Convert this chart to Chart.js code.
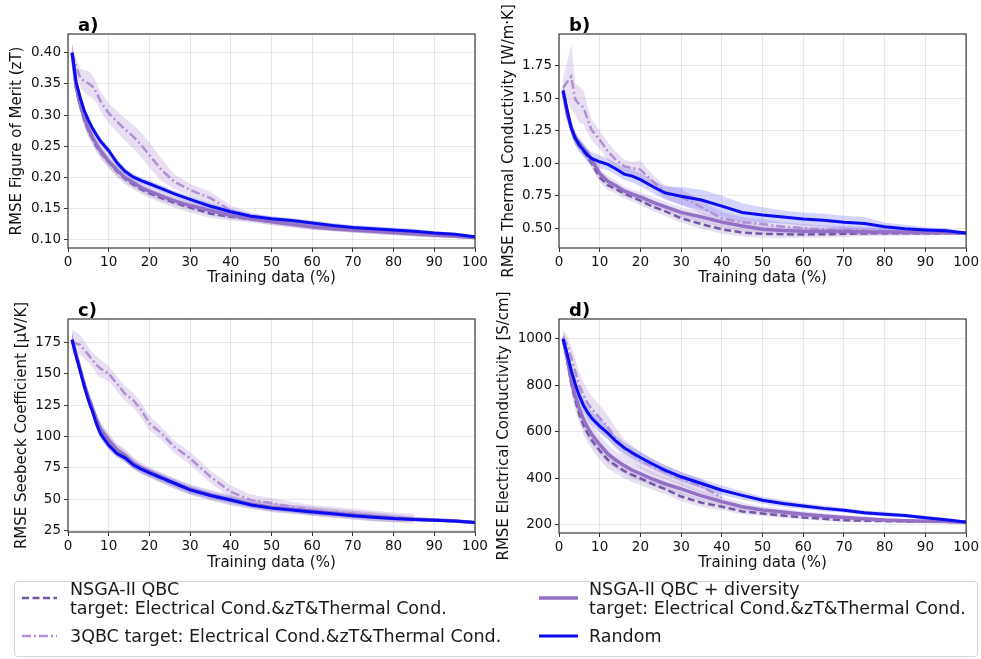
<!DOCTYPE html>
<html>
<head>
<meta charset="utf-8">
<script src="https://cdn.jsdelivr.net/npm/chart.js@4.4.1/dist/chart.umd.min.js"></script>
<style>
    body { margin: 0; width: 981px; height: 659px; background: #fff; position: relative; overflow: hidden; font-family: 'DejaVu Sans', sans-serif; }
    canvas.panel { position: absolute; }
    .legendBox { position: absolute; left: 14px; top: 581px; width: 962px; height: 74px; border: 1px solid #d4d4d4; border-radius: 4px; }
    .legText { position: absolute; font-size: 17.5px; line-height: 20px; color: #1a1a1a; white-space: nowrap; }
    .legLine { position: absolute; }
</style>
</head>
<body>
<canvas id="panelA" class="panel" width="490" height="290" style="left:0;top:0"></canvas>
<canvas id="panelB" class="panel" width="491" height="290" style="left:490px;top:0"></canvas>
<canvas id="panelC" class="panel" width="490" height="285" style="left:0;top:290px"></canvas>
<canvas id="panelD" class="panel" width="491" height="285" style="left:490px;top:290px"></canvas>

<div class="legendBox"></div>
<svg class="legLine" style="left:0;top:0" width="981" height="659">
    <line id="hNsga" x1="22" y1="598" x2="57" y2="598" stroke-width="2.5"/>
    <line id="h3qbc" x1="22" y1="636" x2="57" y2="636" stroke-width="2.5"/>
    <line id="hDiv" x1="539" y1="598" x2="578" y2="598" stroke-width="3.5"/>
    <line id="hRandom" x1="539" y1="636" x2="578" y2="636" stroke-width="3"/>
</svg>
<span class="legText" style="left:70px;top:579px">NSGA-II QBC</span>
<span class="legText" style="left:70px;top:598px">target: Electrical Cond.&amp;zT&amp;Thermal Cond.</span>
<span class="legText" style="left:70px;top:626px">3QBC target: Electrical Cond.&amp;zT&amp;Thermal Cond.</span>
<span class="legText" style="left:589px;top:579px">NSGA-II QBC + diversity</span>
<span class="legText" style="left:589px;top:598px">target: Electrical Cond.&amp;zT&amp;Thermal Cond.</span>
<span class="legText" style="left:589px;top:626px">Random</span>

<script>
'use strict';

/*training data (%) - x positions of all curves*/
const trainPct = [1, 2, 3, 4, 5, 6, 7, 8, 10, 12, 14, 16, 18, 20, 23, 26, 30, 35, 40, 45, 50, 55, 60, 65, 70, 75, 80, 85, 90, 95, 100];
const xTicks = [0, 10, 20, 30, 40, 50, 60, 70, 80, 90, 100];

/*a) RMSE zT*/
const aRandom = [0.400, 0.353, 0.328, 0.307, 0.292, 0.279, 0.268, 0.258, 0.243, 0.224, 0.210, 0.201, 0.195, 0.190, 0.182, 0.174, 0.165, 0.154, 0.145, 0.138, 0.134, 0.131, 0.127, 0.123, 0.120, 0.118, 0.116, 0.114, 0.111, 0.109, 0.105];
const aDiv = [0.400, 0.345, 0.318, 0.295, 0.278, 0.265, 0.253, 0.243, 0.226, 0.212, 0.200, 0.192, 0.184, 0.178, 0.170, 0.163, 0.155, 0.147, 0.139, 0.134, 0.129, 0.125, 0.121, 0.118, 0.116, 0.114, 0.112, 0.110, 0.108, 0.106, 0.104];
const aNsga = [0.400, 0.342, 0.315, 0.292, 0.275, 0.262, 0.250, 0.240, 0.225, 0.210, 0.198, 0.189, 0.181, 0.175, 0.167, 0.160, 0.152, 0.142, 0.137, 0.133, 0.129, 0.125, 0.121, 0.118, 0.116, 0.114, 0.112, 0.110, 0.108, 0.106, 0.104];
const a3qbc = [0.400, 0.378, 0.360, 0.354, 0.351, 0.346, 0.336, 0.322, 0.303, 0.290, 0.277, 0.266, 0.252, 0.236, 0.212, 0.194, 0.180, 0.167, 0.147, 0.138, 0.132, 0.127, 0.122, 0.119, 0.116, 0.114, 0.112, 0.110, 0.108, 0.106, 0.104];
const aRandomSd = [0.012, 0.010, 0.008, 0.007, 0.007, 0.006, 0.006, 0.006, 0.006, 0.006, 0.005, 0.005, 0.005, 0.005, 0.005, 0.005, 0.005, 0.005, 0.005, 0.004, 0.004, 0.004, 0.004, 0.004, 0.004, 0.004, 0.004, 0.004, 0.003, 0.003, 0.002];
const aDivSd = [0.015, 0.012, 0.012, 0.011, 0.011, 0.010, 0.010, 0.010, 0.010, 0.010, 0.009, 0.009, 0.008, 0.008, 0.008, 0.007, 0.007, 0.007, 0.006, 0.005, 0.005, 0.005, 0.005, 0.004, 0.004, 0.004, 0.004, 0.004, 0.004, 0.003, 0.003];
const aNsgaSd = [0.014, 0.012, 0.011, 0.011, 0.010, 0.010, 0.010, 0.010, 0.010, 0.009, 0.009, 0.008, 0.008, 0.008, 0.008, 0.008, 0.008, 0.007, 0.006, 0.005, 0.005, 0.005, 0.004, 0.004, 0.004, 0.004, 0.004, 0.004, 0.003, 0.003, 0.003];
const a3qbcSd = [0.015, 0.012, 0.015, 0.018, 0.020, 0.018, 0.016, 0.016, 0.016, 0.017, 0.018, 0.019, 0.020, 0.020, 0.018, 0.012, 0.010, 0.010, 0.008, 0.006, 0.005, 0.005, 0.005, 0.004, 0.004, 0.004, 0.004, 0.004, 0.004, 0.003, 0.003];
const aTicks = [0.10, 0.15, 0.20, 0.25, 0.30, 0.35, 0.40];

/*b) RMSE thermal conductivity*/
const bRandom = [1.56, 1.41, 1.27, 1.19, 1.14, 1.10, 1.06, 1.036, 1.01, 0.99, 0.955, 0.915, 0.90, 0.872, 0.82, 0.77, 0.745, 0.715, 0.668, 0.620, 0.600, 0.585, 0.570, 0.560, 0.545, 0.535, 0.510, 0.495, 0.485, 0.478, 0.462];
const bDiv = [1.55, 1.38, 1.28, 1.19, 1.15, 1.11, 1.075, 1.024, 0.92, 0.86, 0.825, 0.785, 0.76, 0.74, 0.70, 0.665, 0.62, 0.585, 0.545, 0.515, 0.49, 0.48, 0.475, 0.475, 0.475, 0.47, 0.47, 0.468, 0.465, 0.465, 0.46];
const bNsga = [1.55, 1.37, 1.27, 1.18, 1.13, 1.09, 1.05, 1.00, 0.89, 0.83, 0.80, 0.765, 0.74, 0.71, 0.665, 0.63, 0.575, 0.53, 0.49, 0.465, 0.455, 0.452, 0.45, 0.452, 0.455, 0.458, 0.46, 0.46, 0.46, 0.46, 0.46];
const b3qbc = [1.58, 1.625, 1.665, 1.49, 1.45, 1.43, 1.34, 1.255, 1.18, 1.09, 1.025, 0.975, 0.96, 0.95, 0.86, 0.78, 0.74, 0.66, 0.575, 0.545, 0.53, 0.51, 0.50, 0.49, 0.485, 0.48, 0.475, 0.47, 0.465, 0.465, 0.46];
const bRandomSd = [0.06, 0.05, 0.05, 0.05, 0.05, 0.05, 0.05, 0.05, 0.05, 0.045, 0.045, 0.045, 0.05, 0.05, 0.05, 0.05, 0.07, 0.08, 0.08, 0.07, 0.06, 0.05, 0.05, 0.05, 0.05, 0.05, 0.03, 0.03, 0.02, 0.02, 0.01];
const bDivSd = [0.06, 0.05, 0.05, 0.05, 0.04, 0.04, 0.04, 0.04, 0.04, 0.04, 0.04, 0.035, 0.035, 0.035, 0.04, 0.04, 0.04, 0.04, 0.04, 0.04, 0.035, 0.03, 0.03, 0.03, 0.03, 0.025, 0.025, 0.02, 0.02, 0.015, 0.01];
const bNsgaSd = [0.05, 0.05, 0.05, 0.04, 0.04, 0.04, 0.04, 0.04, 0.04, 0.04, 0.035, 0.035, 0.035, 0.035, 0.035, 0.035, 0.035, 0.035, 0.035, 0.03, 0.03, 0.03, 0.025, 0.025, 0.025, 0.02, 0.02, 0.02, 0.015, 0.015, 0.01];
const b3qbcSd = [0.08, 0.15, 0.25, 0.12, 0.14, 0.13, 0.10, 0.08, 0.07, 0.07, 0.06, 0.05, 0.05, 0.07, 0.05, 0.05, 0.06, 0.05, 0.05, 0.04, 0.04, 0.035, 0.03, 0.03, 0.03, 0.03, 0.025, 0.02, 0.02, 0.015, 0.01];
const bTicks = [0.50, 0.75, 1.00, 1.25, 1.50, 1.75];

/*c) RMSE Seebeck coefficient*/
const cRandom = [177, 164, 152, 140, 129, 120, 110, 102, 93, 86.5, 83, 77.5, 74, 71, 67, 63, 57.5, 53, 49.5, 45.5, 43, 41.5, 40, 38.5, 37, 35.8, 34.7, 34, 33.4, 32.8, 31.6];
const cDiv = [177, 165, 153, 141, 131, 122, 113, 106, 97, 89.5, 85, 79, 75, 72, 67.5, 63, 58, 53.5, 49.5, 46, 43.5, 42, 40.5, 39, 37.5, 36.3, 35, 34.2, 33.5, 32.8, 31.6];
const cNsga = [177, 165, 154, 142, 132, 123, 114, 106, 96.5, 89, 84.5, 78.5, 74, 71, 66.5, 62.5, 57.5, 53, 49, 46, 43.5, 42, 40.5, 39, 37.5, 36, 35, 34.2, 33.5, 32.8, 31.6];
const c3qbc = [175, 174, 173, 169, 165, 161, 157, 154, 150, 142, 134, 129, 121, 110.5, 102.5, 92, 82.6, 68, 56, 49.4, 47, 44, 41.4, 40, 38.8, 37, 35.6, 34.5, null, null, null];
const cRandomSd = [5, 4, 4, 4, 4, 4, 4, 4, 4, 3.5, 3, 3, 3, 3, 3, 3, 3, 2.5, 2.5, 2, 2, 2, 2, 1.5, 1.5, 1.5, 1.5, 1, 1, 1, 0.5];
const cDivSd = [6, 5, 5, 5, 5, 5, 5, 5, 5, 5, 5, 4.5, 4.5, 4, 4, 4, 4, 4, 4, 3.5, 3.5, 3.5, 3.5, 3.5, 3.5, 3.5, 3, 2, 1.5, 1.5, 1];
const cNsgaSd = [6, 5, 5, 5, 5, 5, 5, 5, 5, 4.5, 4.5, 4.5, 4, 4, 4, 4, 4, 4, 4, 3.5, 3.5, 3.5, 3.5, 3.5, 3.5, 3.5, 3, 2, 1.5, 1.5, 1];
const c3qbcSd = [10, 9, 8, 7, 6, 6, 7, 7, 6, 6, 6, 6, 6, 6, 5, 5, 5, 5, 5, 4.5, 4, 4, 4, 4, 4, 4, 4, 4, 4, 4, 4];
const cTicks = [25, 50, 75, 100, 125, 150, 175];

/*d) RMSE electrical conductivity*/
const dRandom = [1000, 935, 865, 805, 755, 715, 685, 660, 625, 595, 560, 532, 510, 490, 462, 436, 407, 378, 349, 327, 306, 292, 281, 271, 263, 252, 246, 240, 231, 222, 212];
const dDiv = [1000, 920, 825, 755, 700, 655, 620, 590, 545, 505, 478, 455, 435, 420, 397, 377, 355, 325, 300, 278, 264, 255, 246, 238, 232, 226, 221, 218, 216, 214, 211];
const dNsga = [1000, 910, 810, 735, 675, 630, 595, 565, 520, 480, 455, 432, 415, 400, 375, 355, 322, 295, 278, 258, 249, 240, 232, 226, 220, 218, 216, 215, 214, 213, 211];
const d3qbc = [1010, 975, 920, 860, 800, 760, 725, 700, 660, 620, 570, 530, 505, 478, 450, 428, 398, 365, 318, null, null, null, null, null, null, null, null, null, null, null, null];
const dRandomSd = [20, 25, 30, 30, 30, 30, 30, 30, 30, 28, 25, 25, 25, 25, 22, 22, 20, 20, 20, 18, 15, 15, 12, 12, 10, 10, 10, 8, 8, 8, 5];
const dDivSd = [30, 40, 45, 45, 45, 45, 45, 45, 40, 40, 38, 35, 35, 32, 30, 28, 25, 22, 20, 18, 15, 15, 12, 12, 10, 10, 8, 8, 8, 6, 5];
const dNsgaSd = [25, 35, 40, 40, 40, 40, 40, 40, 40, 38, 35, 32, 30, 28, 25, 22, 20, 18, 15, 12, 10, 10, 8, 8, 8, 8, 6, 6, 6, 5, 5];
const d3qbcSd = [30, 40, 50, 55, 55, 55, 55, 55, 55, 50, 45, 40, 35, 35, 35, 30, 30, 30, 30, 30, 30, 30, 30, 30, 30, 30, 30, 30, 30, 30, 30];
const dTicks = [200, 400, 600, 800, 1000];

/*colours*/
const colRandom = '#0c0cf0';
const colDiv = '#9370c6';
const colNsga = '#7456a6';
const col3qbc = '#b08fd6';
const bandRandom = 'rgba(40, 40, 255, 0.2)';
const bandDiv = 'rgba(147, 112, 198, 0.2)';
const bandNsga = 'rgba(116, 86, 166, 0.18)';
const band3qbc = 'rgba(150, 115, 195, 0.22)';

const dashNsga = [7, 3.5];
const dash3qbc = [9, 3, 2, 3];

/*legend handles*/
const handles = [['hNsga', colNsga, dashNsga], ['h3qbc', col3qbc, dash3qbc], ['hDiv', colDiv, []], ['hRandom', colRandom, []]];
for (let h of handles) {
    const el = document.getElementById(h[0]);
    el.setAttribute('stroke', h[1]);
    if (h[2].length) el.setAttribute('stroke-dasharray', h[2].join(' '));
}

Chart.defaults.font.family = "'DejaVu Sans', sans-serif";
Chart.defaults.color = '#111';

function toPoints(arr) {
    return trainPct.map(function(x, i) {
        return {x: x, y: arr[i]};
    });
}

/*frame round the axes + panel letter*/
function framePlugin(letter) {
    return {
        id: 'frame' + letter,
        afterDraw(chart) {
            const ctx = chart.ctx;
            const a = chart.chartArea;
            ctx.save();
            ctx.strokeStyle = '#3a3a3a';
            ctx.lineWidth = 1.2;
            ctx.strokeRect(a.left, a.top, a.right - a.left, a.bottom - a.top);
            ctx.font = "bold 18px 'DejaVu Sans'";
            ctx.fillStyle = '#000';
            ctx.textBaseline = 'alphabetic';
            ctx.fillText(letter, a.left + 10, a.top - 3);
            ctx.restore();
        }
    };
}

function buildPanel(canvasId, panel) {
    const canvas = document.getElementById(canvasId);
    const w = canvas.width;
    const h = canvas.height;

    const series = [
        {mean: panel.random, sd: panel.randomSd, color: colRandom, band: bandRandom, dash: [], width: 3},
        {mean: panel.div, sd: panel.divSd, color: colDiv, band: bandDiv, dash: [], width: 3.5},
        {mean: panel.nsga, sd: panel.nsgaSd, color: colNsga, band: bandNsga, dash: dashNsga, width: 2.5},
        {mean: panel.qbc3, sd: panel.qbc3Sd, color: col3qbc, band: band3qbc, dash: dash3qbc, width: 2.5}
    ];

    const lines = [];
    const bands = [];
    for (let s of series) {
        lines.push({
            data: toPoints(s.mean),
            borderColor: s.color,
            borderWidth: s.width,
            borderDash: s.dash,
            pointRadius: 0,
            fill: false
        });
        const upper = s.mean.map(function(v, i) { return v == null ? null : v + s.sd[i]; });
        const lower = s.mean.map(function(v, i) { return v == null ? null : v - s.sd[i]; });
        bands.push({data: toPoints(upper), borderWidth: 0, pointRadius: 0, backgroundColor: s.band, fill: '+1'});
        bands.push({data: toPoints(lower), borderWidth: 0, pointRadius: 0, fill: false});
    }

    const gridOpts = {color: 'rgba(0, 0, 0, 0.09)', lineWidth: 1, drawTicks: true, tickLength: 4, tickColor: '#333', tickWidth: 1};

    new Chart(canvas, {
        type: 'line',
        data: {datasets: lines.concat(bands)},
        options: {
            responsive: false,
            animation: false,
            devicePixelRatio: 1,
            layout: {padding: {left: 0, top: panel.areaTop, right: w - panel.areaRight, bottom: 0}},
            plugins: {legend: {display: false}, tooltip: {enabled: false}},
            scales: {
                x: {
                    type: 'linear',
                    min: 0,
                    max: 100,
                    afterBuildTicks: function(scale) { scale.ticks = xTicks.map(function(v) { return {value: v}; }); },
                    afterFit: function(scale) { scale.height = h - panel.areaBottom; },
                    grid: gridOpts,
                    border: {display: false},
                    ticks: {font: {size: 13.5}, padding: 2, maxRotation: 0, autoSkip: false, color: '#111'},
                    title: {display: true, text: 'Training data (%)', font: {size: 15}, color: '#111', padding: {top: 0, bottom: 3}}
                },
                y: {
                    type: 'linear',
                    min: panel.yMin,
                    max: panel.yMax,
                    afterBuildTicks: function(scale) { scale.ticks = panel.ticks.map(function(v) { return {value: v}; }); },
                    afterFit: function(scale) { scale.width = panel.areaLeft; },
                    grid: gridOpts,
                    border: {display: false},
                    ticks: {
                        font: {size: 13.5},
                        padding: 3,
                        autoSkip: false,
                        color: '#111',
                        callback: function(v) { return Number(v).toFixed(panel.decimals); }
                    },
                    title: {display: true, text: panel.yTitle, font: {size: 15}, color: '#111', padding: {top: panel.titlePad, bottom: 0}}
                }
            }
        },
        plugins: [framePlugin(panel.letter)]
    });
}

buildPanel('panelA', {
    letter: 'a)', yTitle: 'RMSE Figure of Merit (zT)',
    random: aRandom, randomSd: aRandomSd, div: aDiv, divSd: aDivSd, nsga: aNsga, nsgaSd: aNsgaSd, qbc3: a3qbc, qbc3Sd: a3qbcSd,
    ticks: aTicks, decimals: 2, yMin: 0.087, yMax: 0.43,
    areaLeft: 68, areaRight: 475, areaTop: 34, areaBottom: 248, titlePad: 8
});

buildPanel('panelB', {
    letter: 'b)', yTitle: 'RMSE Thermal Conductivity [W/m·K]',
    random: bRandom, randomSd: bRandomSd, div: bDiv, divSd: bDivSd, nsga: bNsga, nsgaSd: bNsgaSd, qbc3: b3qbc, qbc3Sd: b3qbcSd,
    ticks: bTicks, decimals: 2, yMin: 0.346, yMax: 1.994,
    areaLeft: 69, areaRight: 477, areaTop: 34, areaBottom: 248, titlePad: 10
});

buildPanel('panelC', {
    letter: 'c)', yTitle: 'RMSE Seebeck Coefficient [μV/K]',
    random: cRandom, randomSd: cRandomSd, div: cDiv, divSd: cDivSd, nsga: cNsga, nsgaSd: cNsgaSd, qbc3: c3qbc, qbc3Sd: c3qbcSd,
    ticks: cTicks, decimals: 0, yMin: 24, yMax: 193.5,
    areaLeft: 68, areaRight: 475, areaTop: 29, areaBottom: 242, titlePad: 13
});

buildPanel('panelD', {
    letter: 'd)', yTitle: 'RMSE Electrical Conductivity [S/cm]',
    random: dRandom, randomSd: dRandomSd, div: dDiv, divSd: dDivSd, nsga: dNsga, nsgaSd: dNsgaSd, qbc3: d3qbc, qbc3Sd: d3qbcSd,
    ticks: dTicks, decimals: 0, yMin: 165, yMax: 1086,
    areaLeft: 69, areaRight: 477, areaTop: 29, areaBottom: 243, titlePad: 5
});
</script>
</body>
</html>
